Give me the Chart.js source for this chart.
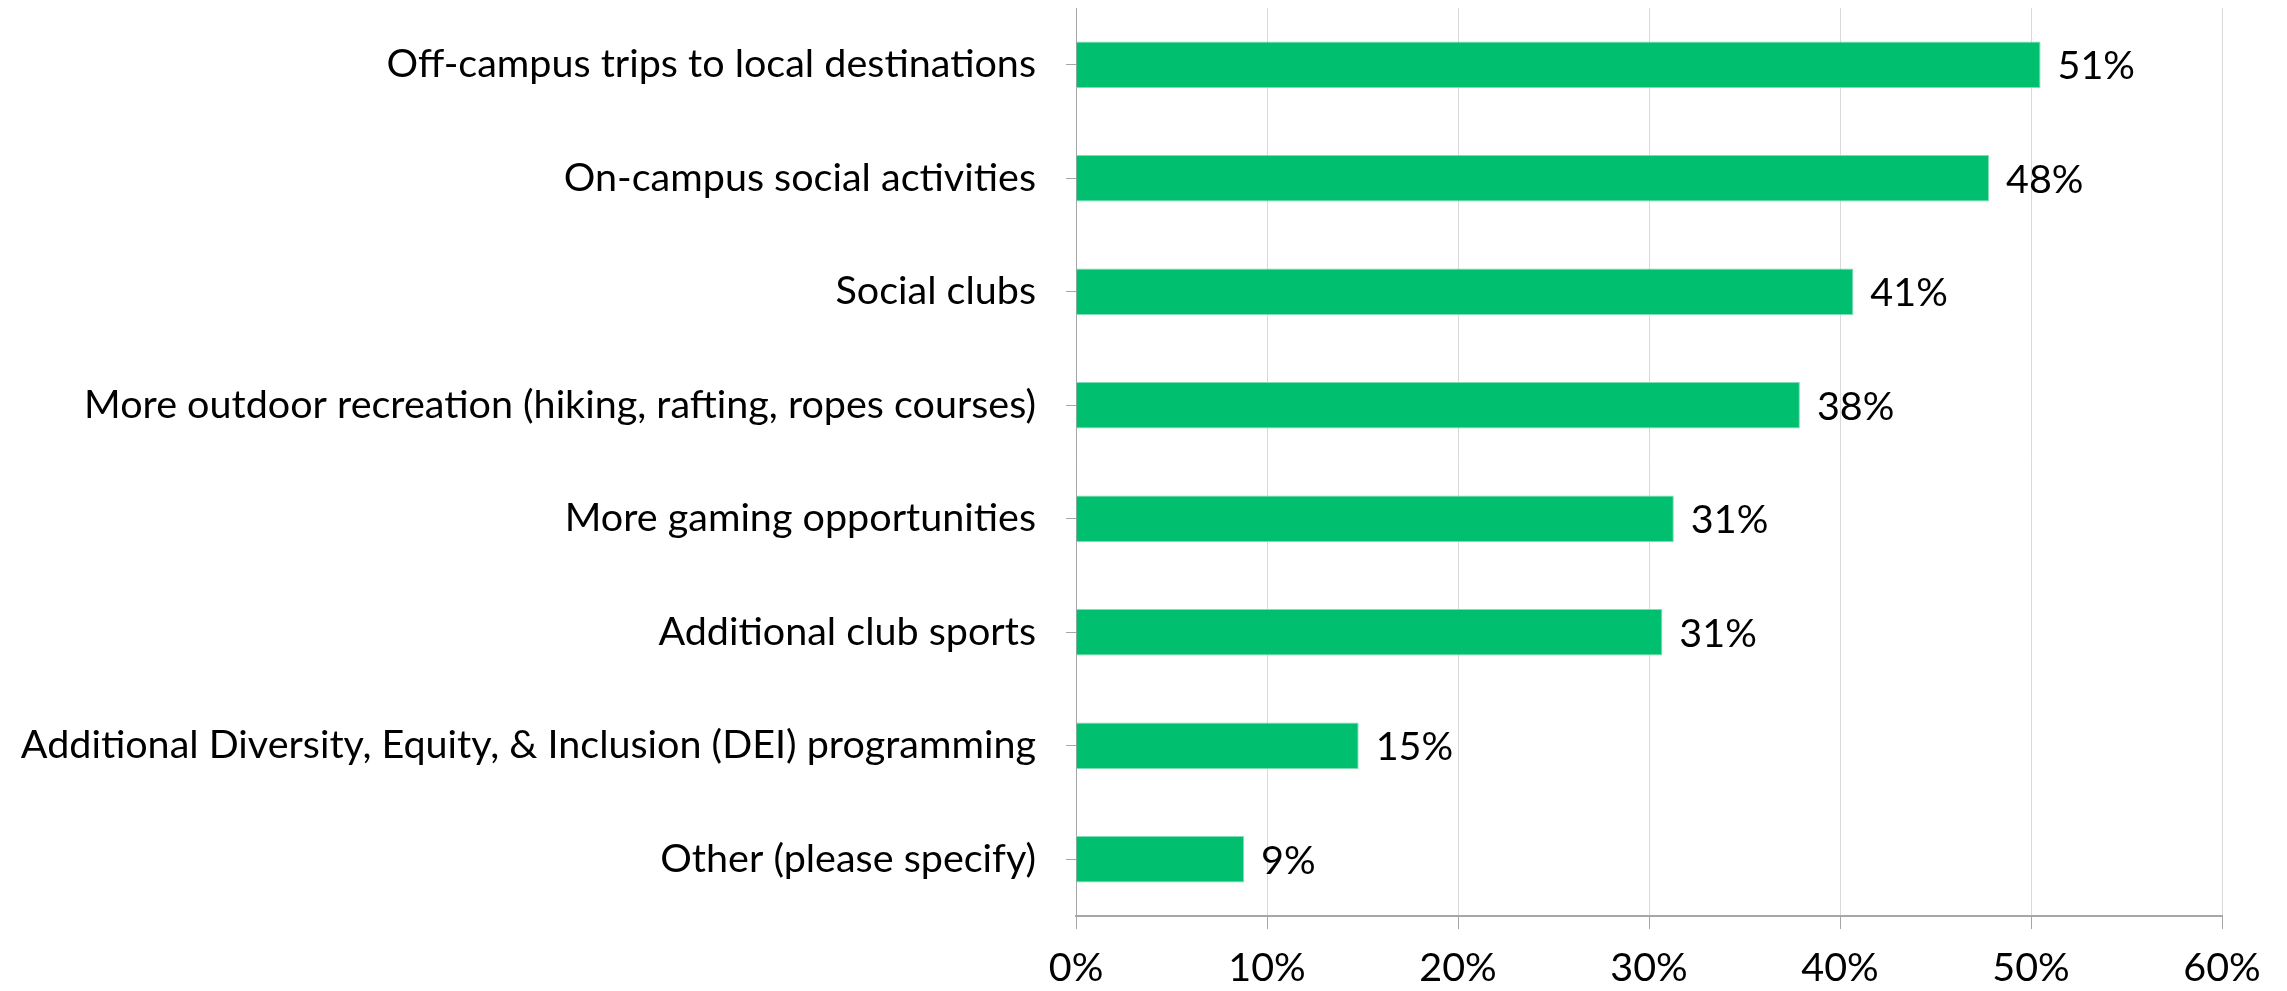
<!DOCTYPE html>
<html lang="en">
<head>
    <meta charset="utf-8">
    <title>Student Activity Interests</title>
    <script src="https://cdn.jsdelivr.net/npm/chart.js@4.4.1/dist/chart.umd.min.js"></script>
    <style>
        html, body {
            margin: 0;
            padding: 0;
            background: #ffffff;
        }
        #wrap {
            width: 2287px;
            height: 991px;
        }
    </style>
</head>
<body>
    <div id="wrap">
        <canvas id="chart" width="2287" height="991"></canvas>
    </div>
    <script>
        const categories = [
            'Off-campus trips to local destinations',
            'On-campus social activities',
            'Social clubs',
            'More outdoor recreation (hiking, rafting, ropes courses)',
            'More gaming opportunities',
            'Additional club sports',
            'Additional Diversity, Equity, & Inclusion (DEI) programming',
            'Other (please specify)'
        ];
        // share of respondents, percent
        const shares = [50.5, 47.8, 40.7, 37.9, 31.3, 30.7, 14.8, 8.8];
        const xTicks = [0, 10, 20, 30, 40, 50, 60];

        const FONT = 'Lato';
        const FONT_SIZE = 39.5;
        const BAR_GREEN = '#00bf6f';

        // writes the rounded percentage just past the end of each bar
        const valueLabels = {
            id: 'valueLabels',
            afterDatasetsDraw(chart) {
                const ctx = chart.ctx;
                const meta = chart.getDatasetMeta(0);
                ctx.save();
                ctx.font = FONT_SIZE + 'px ' + FONT;
                ctx.fillStyle = '#000000';
                ctx.textAlign = 'left';
                ctx.textBaseline = 'middle';
                meta.data.forEach((bar, i) => {
                    ctx.fillText(Math.round(shares[i]) + '%', bar.x + 17, bar.y + 2);
                });
                ctx.restore();
            }
        };

        new Chart(document.getElementById('chart'), {
            type: 'bar',
            data: {
                labels: categories,
                datasets: [{
                    data: shares,
                    backgroundColor: BAR_GREEN,
                    borderColor: '#7fdcb4',
                    borderWidth: 1,
                    categoryPercentage: 1,
                    barPercentage: 0.41
                }]
            },
            options: {
                indexAxis: 'y',
                responsive: false,
                animation: false,
                devicePixelRatio: 1,
                layout: {
                    padding: { top: 8, right: 65, bottom: 0, left: 0 }
                },
                plugins: {
                    legend: { display: false },
                    tooltip: { enabled: false }
                },
                scales: {
                    x: {
                        min: 0,
                        max: 60,
                        afterBuildTicks: scale => {
                            scale.ticks = xTicks.map(v => ({ value: v }));
                        },
                        afterFit: scale => {
                            scale.height = 75;
                        },
                        ticks: {
                            callback: v => v + '%',
                            color: '#000000',
                            font: { family: FONT, size: FONT_SIZE },
                            padding: 16,
                            maxRotation: 0
                        },
                        grid: {
                            color: '#d9d9d9',
                            lineWidth: 1,
                            tickLength: 13,
                            tickColor: '#a6a6a6'
                        },
                        border: {
                            color: '#a6a6a6',
                            width: 2
                        }
                    },
                    y: {
                        afterFit: scale => {
                            scale.width = 1076;
                            // labels sit beside their bars, no extra room above/below needed
                            scale.paddingTop = 0;
                            scale.paddingBottom = 0;
                        },
                        ticks: {
                            color: '#000000',
                            font: { family: FONT, size: FONT_SIZE },
                            padding: 30
                        },
                        grid: {
                            offset: false,
                            drawOnChartArea: false,
                            tickLength: 10,
                            tickColor: '#a6a6a6'
                        },
                        border: {
                            color: '#a6a6a6',
                            width: 1
                        }
                    }
                }
            },
            plugins: [valueLabels]
        });
    </script>
</body>
</html>
